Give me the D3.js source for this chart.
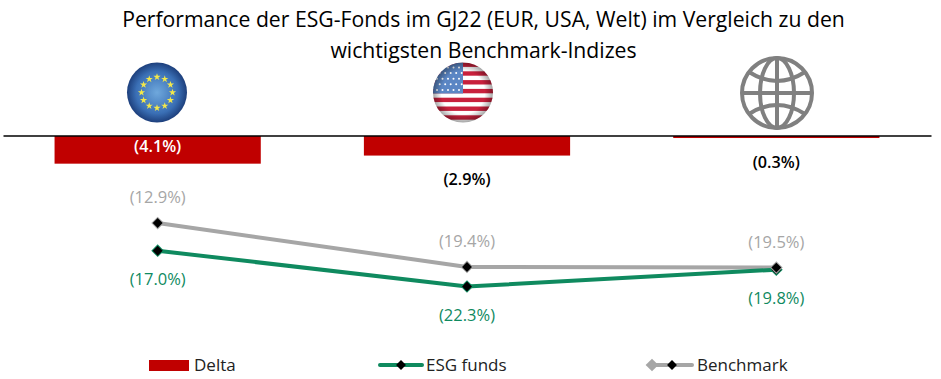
<!DOCTYPE html>
<html>
<head>
<meta charset="utf-8">
<script src="https://cdn.jsdelivr.net/npm/d3@7"></script>
<style>
  html, body { margin: 0; padding: 0; background: #fff; }
  text { font-family: "Open Sans", "Noto Sans", sans-serif; }
</style>
</head>
<body>
<div id="chart"></div>
<script>
var regions = ["EUR", "USA", "Welt"];
var delta = [-4.1, -2.9, -0.3];
var esgFunds = [-17.0, -22.3, -19.8];
var benchmark = [-12.9, -19.4, -19.5];
var legendNames = ["Delta", "ESG funds", "Benchmark"];
var titleLines = [
  "Performance der ESG-Fonds im GJ22 (EUR, USA, Welt) im Vergleich zu den",
  "wichtigsten Benchmark-Indizes"
];

var red = "#c00000", green = "#0f8a5f", grey = "#a6a6a6";
var width = 941, height = 379;

var fmt = function(v) { return "(" + Math.abs(v).toFixed(1) + "%)"; };

var svg = d3.select("#chart").append("svg")
    .attr("width", width)
    .attr("height", height)
    .style("display", "block");

var x = d3.scaleBand().domain(regions).range([3, 931]).paddingInner(1 / 3).paddingOuter(1 / 6);
var y = d3.scaleLinear().domain([-22.3, 0]).range([286.5, 136]);
var cx = function(r) { return x(r) + x.bandwidth() / 2; };

// title
svg.append("g").selectAll("text")
  .data(titleLines)
  .join("text")
    .attr("x", 483.5)
    .attr("y", function(d, i) { return 27 + i * 30.5; })
    .attr("text-anchor", "middle")
    .style("font-size", "21.2px")
    .style("fill", "#000")
    .text(function(d) { return d; });

// bars
svg.append("g").selectAll("rect")
  .data(delta)
  .join("rect")
    .attr("x", function(d, i) { return x(regions[i]); })
    .attr("y", y(0))
    .attr("width", x.bandwidth())
    .attr("height", function(d) { return y(d) - y(0); })
    .attr("fill", red);

// baseline, over the bars
svg.append("g")
    .attr("transform", "translate(0," + (y(0) - 0.5) + ")")
    .call(d3.axisTop(x).tickSize(0).tickFormat(""))
    .call(function(g) { g.select(".domain").attr("stroke", "#000").attr("stroke-width", 1.5); });

// lines
var line = d3.line()
    .x(function(d, i) { return cx(regions[i]); })
    .y(function(d) { return y(d); });

[[benchmark, grey], [esgFunds, green]].forEach(function(s) {
  svg.append("path")
      .attr("d", line(s[0]))
      .attr("fill", "none")
      .attr("stroke", s[1])
      .attr("stroke-width", 4);
});

function diamond(g, px, py, size, fill) {
  g.append("rect")
      .attr("x", -size / 2).attr("y", -size / 2)
      .attr("width", size).attr("height", size)
      .attr("fill", fill)
      .attr("transform", "translate(" + px + "," + py + ") rotate(45)");
}
[[esgFunds, green], [benchmark, grey]].forEach(function(s) {
  var g = svg.append("g");
  s[0].forEach(function(v, i) {
    diamond(g, cx(regions[i]), y(v), 9, s[1]);
    diamond(g, cx(regions[i]), y(v), 7, "#000");
  });
});

// value labels
var labelStyle = function(sel, color, size, weight) {
  sel.attr("text-anchor", "middle")
     .style("font-size", size)
     .style("font-weight", weight)
     .style("fill", color)
     .text(function(d) { return fmt(d); });
};
var deltaLabelY = [152, 185, 168];
var deltaLabelColor = ["#fff", "#000", "#000"];
svg.append("g").selectAll("text")
  .data(delta)
  .join("text")
    .attr("x", function(d, i) { return cx(regions[i]); })
    .attr("y", function(d, i) { return deltaLabelY[i]; })
    .call(labelStyle, "#000", "16.2px", 600)
    .style("fill", function(d, i) { return deltaLabelColor[i]; });
svg.append("g").selectAll("text")
  .data(benchmark)
  .join("text")
    .attr("x", function(d, i) { return cx(regions[i]); })
    .attr("y", function(d) { return y(d) - 20; })
    .call(labelStyle, grey, "16.5px", 400);
svg.append("g").selectAll("text")
  .data(esgFunds)
  .join("text")
    .attr("x", function(d, i) { return cx(regions[i]); })
    .attr("y", function(d) { return y(d) + 34; })
    .call(labelStyle, green, "16.5px", 400);

// icons
var defs = svg.append("defs");
var euGrad = defs.append("radialGradient").attr("id", "euGrad");
euGrad.append("stop").attr("offset", "0%").attr("stop-color", "#6fa8dc");
euGrad.append("stop").attr("offset", "70%").attr("stop-color", "#3a6fb5");
euGrad.append("stop").attr("offset", "100%").attr("stop-color", "#1d3f7c");
var shade = defs.append("radialGradient").attr("id", "shade");
shade.append("stop").attr("offset", "72%").attr("stop-color", "#000").attr("stop-opacity", 0);
shade.append("stop").attr("offset", "100%").attr("stop-color", "#000").attr("stop-opacity", 0.35);
var iconY = 92.5, iconR = 30;

// EU flag
var eu = svg.append("g").attr("transform", "translate(157," + iconY + ")");
eu.append("circle").attr("r", iconR).attr("fill", "url(#euGrad)");
var star = d3.symbol().type(d3.symbolStar).size(16)();
d3.range(12).forEach(function(i) {
  var a = i * Math.PI / 6;
  eu.append("path").attr("d", star).attr("fill", "#f3e84a")
    .attr("transform", "translate(" + 15.5 * Math.sin(a) + "," + (-15.5 * Math.cos(a)) + ")");
});

// US flag
defs.append("clipPath").attr("id", "usClip").append("circle").attr("r", iconR);
var us = svg.append("g").attr("transform", "translate(463," + iconY + ")");
var usInner = us.append("g").attr("clip-path", "url(#usClip)");
usInner.append("rect").attr("x", -iconR).attr("y", -iconR).attr("width", 60).attr("height", 60).attr("fill", "#fff");
d3.range(7).forEach(function(i) {
  usInner.append("rect").attr("x", -iconR).attr("y", -iconR + i * 8.8).attr("width", 60).attr("height", 4.4).attr("fill", "#c8203c");
});
usInner.append("rect").attr("x", -iconR).attr("y", -iconR).attr("width", 30).attr("height", 31).attr("fill", "#5b86c4");
d3.range(5).forEach(function(r) {
  d3.range(5).forEach(function(c) {
    usInner.append("circle").attr("cx", -26 + c * 5.5 + (r % 2) * 2.7).attr("cy", -25 + r * 5.6).attr("r", 1).attr("fill", "#fff");
  });
});
us.append("circle").attr("r", iconR).attr("fill", "url(#shade)");

// globe
var globe = svg.append("g").attr("transform", "translate(777,93)")
    .attr("fill", "none").attr("stroke", "#808080").attr("stroke-width", 4);
globe.append("circle").attr("r", 35);
globe.append("ellipse").attr("rx", 17).attr("ry", 35);
globe.append("line").attr("x1", 0).attr("x2", 0).attr("y1", -35).attr("y2", 35);
globe.append("line").attr("x1", -35).attr("x2", 35).attr("y1", 0).attr("y2", 0);
globe.append("path").attr("d", "M-28,-21Q0,-3 28,-21");
globe.append("path").attr("d", "M-28,21Q0,3 28,21");

// legend
var legendY = 365;
var legend = svg.append("g");
legend.append("rect").attr("x", 149).attr("y", legendY - 5).attr("width", 40).attr("height", 11).attr("fill", red);
legend.append("line").attr("x1", 380).attr("x2", 422).attr("y1", legendY).attr("y2", legendY)
    .attr("stroke", green).attr("stroke-width", 4).attr("stroke-linecap", "round");
legend.append("line").attr("x1", 650).attr("x2", 692).attr("y1", legendY).attr("y2", legendY)
    .attr("stroke", grey).attr("stroke-width", 4).attr("stroke-linecap", "round");
diamond(legend, 652, legendY, 9, grey);
diamond(legend, 401, legendY, 7, "#000");
diamond(legend, 672, legendY, 7, "#000");
var legendX = [194, 426, 697];
legend.selectAll("text")
  .data(legendNames)
  .join("text")
    .attr("x", function(d, i) { return legendX[i]; })
    .attr("y", legendY + 6)
    .style("font-size", "17px")
    .style("fill", "#222")
    .text(function(d) { return d; });
</script>
</body>
</html>
